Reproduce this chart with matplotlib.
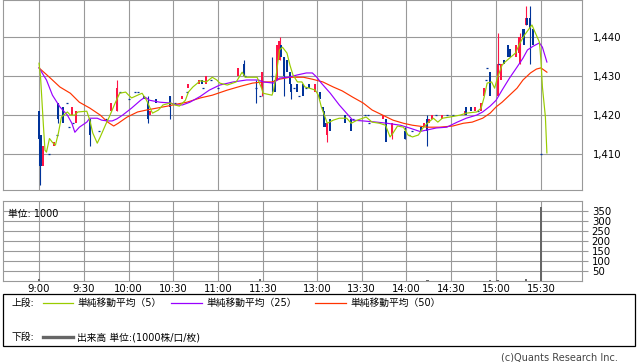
import matplotlib
matplotlib.use("Agg")
import matplotlib.pyplot as plt
from matplotlib.patches import Rectangle
from matplotlib.lines import Line2D

plt.rcParams['font.family'] = ['DejaVu Sans', 'Noto Sans CJK JP']

# ---------------- data ----------------
x_tick_labels = ["9:00", "9:30", "10:00", "10:30", "11:00", "11:30",
                 "13:00", "13:30", "14:00", "14:30", "15:00", "15:30"]
price_ticks = [1410, 1420, 1430, 1440]
price_tick_labels = ["1,410", "1,420", "1,430", "1,440"]
vol_ticks = [50, 100, 150, 200, 250, 300, 350]

candle_time = [
    "9:00", "9:01", "9:03", "9:07", "9:10", "9:12", "9:13", "9:16", "9:19", "9:20",
    "9:22", "9:23", "9:25", "9:34", "9:40", "9:45", "9:48", "9:52", "9:54", "10:00",
    "10:04", "10:06", "10:10", "10:13", "10:14", "10:18", "10:28", "10:31", "10:36", "10:39",
    "10:40", "10:47", "10:49", "10:50", "10:52", "10:55", "11:00", "11:13", "11:17", "11:18",
    "11:25", "11:28", "11:29",
    "12:30", "12:32", "12:33", "12:35", "12:36", "12:38", "12:40", "12:42", "12:43", "12:45",
    "12:47", "12:48", "12:51", "12:53", "12:55", "12:59", "13:02", "13:04", "13:05", "13:06",
    "13:07", "13:09", "13:19", "13:23", "13:24", "13:32", "13:34", "13:35", "13:44", "13:46",
    "13:50", "13:59", "14:02", "14:04", "14:10", "14:12", "14:14", "14:15", "14:17", "14:20",
    "14:24", "14:27", "14:31", "14:39", "14:40", "14:43", "14:46", "14:48", "14:50", "14:52",
    "14:53", "14:54", "14:56", "15:01", "15:02", "15:03", "15:05", "15:08", "15:09", "15:13",
    "15:15", "15:16", "15:18", "15:19", "15:20", "15:21", "15:23", "15:25", "15:30"]
candle_open = [
    1421, 1415, 1407, 1410, 1412, 1415, 1423, 1422, 1423, 1417,
    1420, 1418, 1418, 1419, 1416, 1419, 1421, 1421, 1426, 1424,
    1426, 1426, 1425, 1423, 1420, 1424, 1425, 1423, 1424, 1426,
    1427, 1428, 1429, 1427, 1428, 1429, 1427, 1430, 1433, 1430,
    1427, 1425, 1427,
    1430, 1429, 1429, 1434, 1438, 1435, 1434, 1431, 1428, 1427,
    1428, 1425, 1428, 1427, 1428, 1426, 1426, 1422, 1421, 1418,
    1415, 1419, 1420, 1419, 1419, 1420, 1420, 1418, 1419, 1419,
    1415, 1416, 1415, 1416, 1417, 1417, 1419, 1418, 1419, 1420,
    1419, 1420, 1420, 1420, 1422, 1422, 1421, 1421, 1421, 1425,
    1429, 1432, 1431, 1425, 1433, 1429, 1434, 1438, 1437, 1435,
    1436, 1433, 1442, 1442, 1443, 1445, 1445, 1442, 1410]
candle_high = [
    1421, 1415, 1412, 1410, 1413, 1415, 1423, 1422, 1423, 1417,
    1422, 1418, 1421, 1419, 1416, 1419, 1423, 1429, 1426, 1424,
    1426, 1426, 1425, 1425, 1421, 1424, 1425, 1423, 1425, 1426,
    1428, 1429, 1429, 1427, 1430, 1429, 1427, 1432, 1434, 1430,
    1429, 1425, 1431,
    1435, 1429, 1438, 1440, 1438, 1435, 1434, 1431, 1428, 1427,
    1428, 1425, 1428, 1427, 1428, 1428, 1426, 1422, 1421, 1418,
    1418, 1419, 1420, 1419, 1419, 1420, 1420, 1418, 1420, 1419,
    1418, 1417, 1415, 1416, 1417, 1418, 1420, 1419, 1420, 1420,
    1420, 1420, 1420, 1421, 1422, 1422, 1422, 1421, 1423, 1427,
    1429, 1432, 1431, 1441, 1433, 1433, 1434, 1438, 1437, 1438,
    1440, 1441, 1442, 1442, 1448, 1445, 1448, 1442, 1410]
candle_low = [
    1414, 1402, 1407, 1410, 1412, 1415, 1418, 1418, 1423, 1417,
    1420, 1418, 1418, 1412, 1416, 1419, 1421, 1421, 1426, 1424,
    1426, 1426, 1424, 1418, 1420, 1423, 1419, 1423, 1424, 1426,
    1427, 1428, 1428, 1427, 1428, 1429, 1427, 1430, 1430, 1430,
    1423, 1425, 1425,
    1426, 1426, 1429, 1434, 1435, 1425, 1431, 1428, 1424, 1427,
    1426, 1425, 1425, 1427, 1427, 1426, 1424, 1421, 1417, 1417,
    1413, 1416, 1418, 1416, 1419, 1420, 1420, 1418, 1419, 1413,
    1414, 1414, 1415, 1416, 1416, 1417, 1412, 1418, 1419, 1420,
    1419, 1420, 1420, 1420, 1420, 1421, 1421, 1421, 1421, 1425,
    1429, 1432, 1425, 1425, 1433, 1429, 1433, 1435, 1435, 1435,
    1436, 1433, 1440, 1438, 1443, 1443, 1433, 1438, 1410]
candle_close = [
    1414, 1407, 1412, 1410, 1413, 1415, 1419, 1418, 1423, 1417,
    1422, 1418, 1421, 1415, 1416, 1419, 1423, 1427, 1426, 1424,
    1426, 1426, 1424, 1419, 1421, 1423, 1422, 1423, 1425, 1426,
    1428, 1429, 1428, 1427, 1430, 1429, 1427, 1432, 1430, 1430,
    1427, 1425, 1431,
    1430, 1426, 1438, 1439, 1435, 1430, 1431, 1428, 1426, 1427,
    1426, 1425, 1425, 1427, 1427, 1428, 1424, 1421, 1417, 1417,
    1418, 1416, 1418, 1416, 1419, 1420, 1420, 1418, 1420, 1413,
    1418, 1414, 1415, 1416, 1416, 1418, 1416, 1419, 1420, 1420,
    1420, 1420, 1420, 1421, 1420, 1421, 1422, 1421, 1423, 1427,
    1429, 1432, 1425, 1433, 1433, 1433, 1433, 1435, 1435, 1438,
    1440, 1438, 1440, 1438, 1445, 1443, 1442, 1438, 1410]

ma5_time = [
    "9:00", "9:01", "9:03", "9:04", "9:05", "9:07", "9:09", "9:11", "9:13", "9:15",
    "9:19", "9:21", "9:24", "9:26", "9:32", "9:34", "9:36", "9:39", "9:41", "9:45",
    "9:47", "9:51", "9:54", "9:58", "10:00", "10:02", "10:06", "10:09", "10:12", "10:14",
    "10:16", "10:20", "10:23", "10:28", "10:31", "10:34", "10:38", "10:40", "10:43", "10:48",
    "10:52", "10:56", "10:59", "11:01", "11:06", "11:12", "11:16", "11:18", "11:26", "11:29",
    "11:30", "12:30", "12:31", "12:33", "12:35", "12:37", "12:40", "12:42", "12:44", "12:47",
    "12:50", "12:52", "12:55", "12:59", "13:01", "13:03", "13:05", "13:07", "13:11", "13:15",
    "13:20", "13:23", "13:27", "13:33", "13:37", "13:42", "13:46", "13:49", "13:51", "13:54",
    "13:58", "14:01", "14:04", "14:08", "14:11", "14:14", "14:18", "14:21", "14:24", "14:29",
    "14:36", "14:40", "14:47", "14:50", "14:52", "14:54", "14:57", "14:59", "15:01", "15:04",
    "15:06", "15:09", "15:13", "15:16", "15:19", "15:23", "15:24", "15:26", "15:29", "15:30",
    "15:31", "15:33", "15:34"]
ma5_value = [
    1433.3, 1430.0, 1417.0, 1411.0, 1410.5, 1414.0, 1413.0, 1412.3, 1415.4, 1419.5,
    1420.8, 1420.0, 1420.0, 1420.8, 1421.0, 1418.7, 1415.4, 1412.8, 1414.4, 1417.9,
    1419.5, 1423.1, 1425.6, 1425.9, 1425.1, 1424.4, 1425.1, 1425.6, 1423.8, 1422.1,
    1420.5, 1421.3, 1422.6, 1423.1, 1422.6, 1422.3, 1423.8, 1425.9, 1427.2, 1428.8,
    1428.5, 1429.7, 1429.0, 1428.2, 1427.7, 1428.5, 1431.0, 1429.7, 1429.7, 1426.9,
    1425.6, 1425.1, 1426.4, 1430.8, 1436.7, 1437.4, 1435.9, 1432.8, 1430.3, 1428.5,
    1428.5, 1427.2, 1426.9, 1426.4, 1425.1, 1422.1, 1420.0, 1417.9, 1418.7, 1419.2,
    1419.2, 1417.9, 1418.7, 1419.5, 1418.2, 1417.9, 1417.4, 1414.4, 1415.4, 1417.2,
    1416.9, 1414.9, 1414.4, 1414.9, 1416.7, 1417.9, 1419.2, 1418.2, 1419.2, 1419.5,
    1420.0, 1420.5, 1420.8, 1421.8, 1424.6, 1428.2, 1428.5, 1426.9, 1429.7, 1432.8,
    1433.6, 1434.6, 1435.9, 1438.5, 1440.5, 1442.6, 1443.1, 1441.3, 1438.7, 1434.1,
    1427.2, 1419.5, 1410.3]

ma25_time = [
    "9:00", "9:05", "9:09", "9:14", "9:19", "9:22", "9:24", "9:27", "9:32", "9:34",
    "9:39", "9:42", "9:46", "9:49", "9:52", "9:56", "10:02", "10:08", "10:11", "10:14",
    "10:21", "10:28", "10:32", "10:36", "10:41", "10:48", "10:54", "11:01", "11:10", "11:19",
    "11:27", "11:30", "12:31", "12:35", "12:41", "12:47", "12:53", "12:57", "13:00", "13:03",
    "13:09", "13:15", "13:21", "13:24", "13:31", "13:40", "13:47", "13:56", "14:02", "14:09",
    "14:14", "14:20", "14:27", "14:34", "14:40", "14:47", "14:51", "14:56", "15:00", "15:04",
    "15:09", "15:14", "15:18", "15:21", "15:25", "15:29", "15:31", "15:34"]
ma25_value = [
    1432.1, 1429.0, 1425.1, 1422.1, 1420.0, 1417.9, 1415.6, 1416.9, 1418.2, 1419.2,
    1419.2, 1418.7, 1418.5, 1418.5, 1419.0, 1420.0, 1421.8, 1423.8, 1424.6, 1423.8,
    1423.3, 1423.1, 1422.6, 1422.6, 1423.3, 1424.8, 1426.4, 1427.7, 1428.5, 1429.0,
    1429.0, 1428.5, 1428.2, 1429.5, 1429.7, 1430.3, 1430.8, 1430.8, 1429.7, 1428.2,
    1425.6, 1422.6, 1420.0, 1418.7, 1418.5, 1418.2, 1417.9, 1417.4, 1416.7, 1415.8,
    1416.2, 1416.7, 1416.9, 1418.2, 1419.2, 1420.0, 1420.8, 1422.3, 1423.8, 1426.4,
    1429.5, 1432.3, 1434.6, 1436.7, 1437.7, 1438.5, 1437.4, 1433.6]

ma50_time = [
    "9:00", "9:07", "9:14", "9:21", "9:27", "9:34", "9:41", "9:46", "9:50", "9:53",
    "9:59", "10:06", "10:12", "10:19", "10:26", "10:32", "10:39", "10:48", "10:56", "11:06",
    "11:15", "11:23", "11:30", "12:30", "12:35", "12:42", "12:51", "12:57", "13:04", "13:11",
    "13:17", "13:24", "13:31", "13:37", "13:44", "13:51", "13:58", "14:04", "14:14", "14:22",
    "14:31", "14:38", "14:44", "14:51", "14:56", "15:00", "15:04", "15:09", "15:14", "15:18",
    "15:23", "15:27", "15:30", "15:34"]
ma50_value = [
    1432.1, 1429.7, 1427.2, 1425.6, 1423.3, 1421.8, 1420.0, 1418.2, 1417.2, 1417.9,
    1419.5, 1420.8, 1421.3, 1421.8, 1422.3, 1422.8, 1423.3, 1424.4, 1425.1, 1426.4,
    1427.4, 1428.2, 1428.5, 1428.5, 1429.2, 1429.7, 1429.7, 1429.2, 1428.5, 1427.2,
    1426.2, 1424.6, 1423.1, 1421.3, 1420.0, 1418.7, 1417.9, 1417.4, 1416.9, 1416.9,
    1417.2, 1417.9, 1418.2, 1419.2, 1420.5, 1422.1, 1423.3, 1425.1, 1426.9, 1429.0,
    1430.8, 1431.8, 1432.1, 1431.0]

vol_time = ["9:00", "11:28", "14:14", "14:56", "15:01", "15:20", "15:30"]
vol_value = [12, 10, 5, 5, 5, 10, 370]

# ---------------- helpers ----------------
W, H = 638, 362


def session_pos(t):
    h, m = (int(v) for v in t.split(':'))
    mins = h * 60 + m
    if mins <= 11 * 60 + 30:
        return mins - 9 * 60
    return 156 + (mins - (12 * 60 + 30))


def fx(px):
    return px / W


def fy(py):
    return 1 - py / H


UP = '#FF1446'
DOWN = '#003399'
GRID = '#999999'

fig = plt.figure(figsize=(W / 100, H / 100), dpi=100)
ax = fig.add_axes([fx(3), fy(190), 579 / W, 190 / H])
axv = fig.add_axes([fx(3), fy(281), 579 / W, 80 / H])

xticks = [session_pos(t) for t in x_tick_labels]
for a in (ax, axv):
    a.set_xlim(-24.1, 363.5)
    a.set_xticks(xticks)
    a.set_axisbelow(True)
    a.grid(True, color=GRID, linewidth=0.8)
    for s in a.spines.values():
        s.set_color(GRID)
        s.set_linewidth(0.8)

# ---- price panel ----
ax.set_ylim(1400.8, 1449.5)
ax.set_yticks(price_ticks)
ax.set_yticklabels(price_tick_labels)
ax.yaxis.tick_right()
ax.tick_params(axis='y', length=0, pad=8, labelsize=7.3)
ax.tick_params(axis='x', length=0, labelbottom=False)

bw = 1.35
for t, o, hi, lo, c in zip(candle_time, candle_open, candle_high, candle_low, candle_close):
    xp = session_pos(t)
    col = UP if c > o else DOWN
    if hi > max(o, c) or lo < min(o, c):
        ax.vlines(xp, lo, hi, colors=col, linewidth=0.8, zorder=3)
    if c == o:
        ax.hlines(o, xp - bw / 2, xp + bw / 2, colors=col, linewidth=0.9, zorder=3)
    else:
        ax.bar(xp, abs(c - o), bottom=min(o, c), width=bw, color=col,
               linewidth=0, zorder=3)

ax.plot([session_pos(t) for t in ma50_time], ma50_value, color='#FF3300', lw=0.85, zorder=4)
ax.plot([session_pos(t) for t in ma25_time], ma25_value, color='#9900FF', lw=0.85, zorder=5)
ax.plot([session_pos(t) for t in ma5_time], ma5_value, color='#99CC00', lw=0.85, zorder=6)

# ---- volume panel ----
axv.set_ylim(0, 400)
axv.set_yticks(vol_ticks)
axv.yaxis.tick_right()
axv.tick_params(axis='y', length=4, width=0.8, color=GRID, pad=3, labelsize=7.3)
axv.tick_params(axis='x', length=0, pad=2.5, labelsize=7.3)
axv.set_xticklabels(x_tick_labels)
axv.bar([session_pos(t) for t in vol_time], vol_value, width=1.8,
        color='#666666', linewidth=0, zorder=3)
axv.text(5 / 579, 0.84, '単位: 1000', transform=axv.transAxes,
         fontsize=7.0, ha='left', va='center', zorder=5)

# ---- legend box ----
fig.add_artist(Rectangle((fx(3), fy(346)), 632 / W, 52 / H, transform=fig.transFigure,
                         fill=False, edgecolor='black', linewidth=0.9))
ly1, ly2 = fy(303), fy(337)
lfs = 7.0
fig.text(fx(12), ly1, '上段:', fontsize=lfs, ha='left', va='center')
fig.text(fx(12), ly2, '下段:', fontsize=lfs, ha='left', va='center')
for x0, x1, col, label in [(43, 73, '#99CC00', '単純移動平均（5）'),
                           (171, 202, '#9900FF', '単純移動平均（25）'),
                           (315, 346, '#FF3300', '単純移動平均（50）')]:
    fig.add_artist(Line2D([fx(x0), fx(x1)], [ly1, ly1], transform=fig.transFigure,
                          color=col, linewidth=0.9))
    fig.text(fx(x1 + 4), ly1, label, fontsize=lfs, ha='left', va='center')
fig.add_artist(Line2D([fx(43), fx(73)], [ly2, ly2], transform=fig.transFigure,
                      color='#666666', linewidth=2.4))
fig.text(fx(77), ly2, '出来高 単位:(1000株/口/枚)', fontsize=lfs, ha='left', va='center')

fig.text(fx(618), fy(357), '(c)Quants Research Inc.', fontsize=7.0, ha='right',
         va='center', color='#444444')

fig.savefig('out.png', dpi=100)
